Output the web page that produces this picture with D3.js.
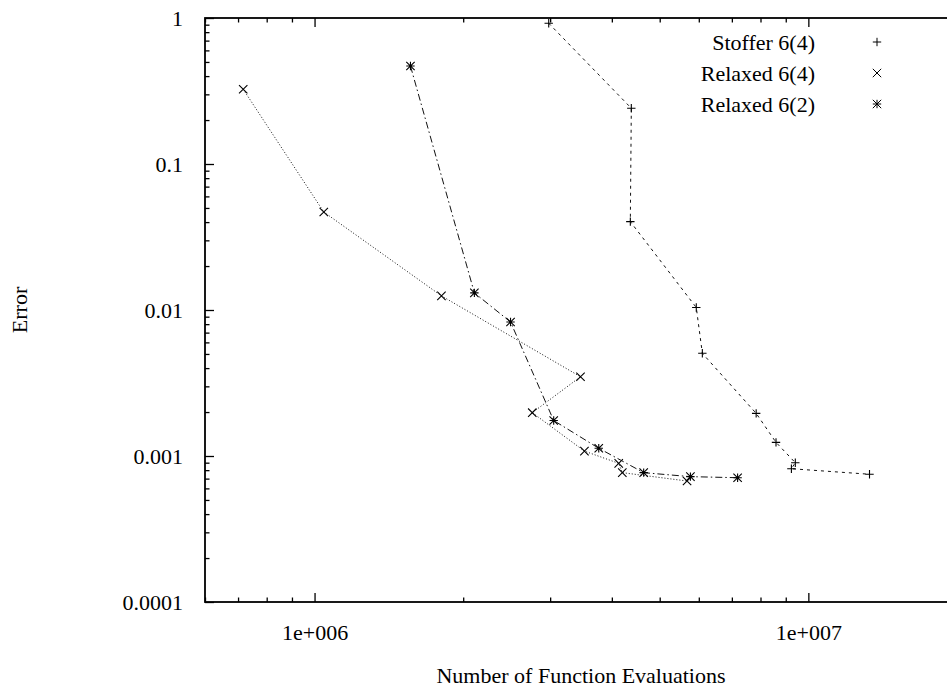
<!DOCTYPE html>
<html>
<head>
<meta charset="utf-8">
<script src="https://cdn.jsdelivr.net/npm/d3@7"></script>
<style>
    body { margin: 0; background: #fff; }
    svg text { font-family: "Liberation Serif", "DejaVu Serif", serif; fill: #000; }
</style>
</head>
<body>
<svg id="chart"></svg>
<script>
// series (x = function evaluations, y = error)
const stofferEvals = [2.98e6, 4.38e6, 4.36e6, 5.93e6, 6.10e6, 7.84e6, 8.60e6, 9.41e6, 9.24e6, 1.33e7];
const stofferError = [0.92, 0.241, 0.0403, 0.0104, 0.00505, 0.00196, 0.00124, 0.00090, 0.000818, 0.00075];

const relaxed64Evals = [7.17e5, 1.044e6, 1.807e6, 3.456e6, 2.76e6, 3.52e6, 4.13e6, 4.20e6, 5.68e6];
const relaxed64Error = [0.325, 0.0469, 0.0125, 0.00349, 0.00198, 0.00108, 0.000891, 0.000769, 0.000674];

const relaxed62Evals = [1.564e6, 2.107e6, 2.494e6, 3.05e6, 3.763e6, 4.64e6, 5.77e6, 7.19e6];
const relaxed62Error = [0.469, 0.0131, 0.00828, 0.00175, 0.00113, 0.000769, 0.000722, 0.00071];

const seriesNames = ["Stoffer 6(4)", "Relaxed 6(4)", "Relaxed 6(2)"];

const xMajorTicks = [1e6, 1e7];
const xMajorLabels = ["1e+006", "1e+007"];
const yMajorTicks = [1e-4, 1e-3, 1e-2, 1e-1, 1];
const yMajorLabels = ["0.0001", "0.001", "0.01", "0.1", "1"];

class ErrorPlot {
    constructor(_config) {
        this.config = {
            parentElement: _config.parentElement,
            width: 947,
            height: 688,
            plot: {left: 205, top: 18, right: 957, bottom: 602},
            fontSize: 22
        };
        this.initVis();
    }

    initVis() {
        let vis = this;
        const p = vis.config.plot;

        vis.svg = d3.select(vis.config.parentElement)
            .attr('width', vis.config.width)
            .attr('height', vis.config.height);

        vis.xScale = d3.scaleLog().domain([6e5, 2e7]).range([p.left, p.right]);
        vis.yScale = d3.scaleLog().domain([1e-4, 1]).range([p.bottom, p.top]);

        vis.series = [
            {name: seriesNames[0], x: stofferEvals, y: stofferError, marker: 'plus', dash: '3,4'},
            {name: seriesNames[1], x: relaxed64Evals, y: relaxed64Error, marker: 'cross', dash: '1,2'},
            {name: seriesNames[2], x: relaxed62Evals, y: relaxed62Error, marker: 'star', dash: '7,3,1.5,3'}
        ];

        vis.renderVis();
    }

    markerPath(type) {
        const r = 4.2;
        const plus = `M${-r},0H${r}M0,${-r}V${r}`;
        const cross = `M${-r},${-r}L${r},${r}M${-r},${r}L${r},${-r}`;
        if (type === 'plus') return plus;
        if (type === 'cross') return cross;
        return plus + cross;
    }

    renderVis() {
        let vis = this;
        const p = vis.config.plot;
        const fs = vis.config.fontSize;
        const font = '"Liberation Serif", "DejaVu Serif", serif';

        const xMinor = vis.xScale.ticks().filter(d => !xMajorTicks.some(m => Math.abs(m - d) / m < 1e-9));
        const yMinor = vis.yScale.ticks().filter(d => !yMajorTicks.some(m => Math.abs(m - d) / m < 1e-9));

        const styleAxis = g => {
            g.attr('font-family', null);
            g.select('.domain').remove();
            g.selectAll('line').attr('stroke', '#000').attr('stroke-width', 1.3);
            g.selectAll('text').style('font-size', fs + 'px').style('font-family', font);
        };

        // bottom axis (ticks pointing inward)
        vis.svg.append('g').attr('transform', `translate(0,${p.bottom})`)
            .call(d3.axisBottom(vis.xScale).tickValues(xMinor).tickSize(-4.5).tickSizeOuter(0).tickFormat(''))
            .call(styleAxis);
        vis.svg.append('g').attr('transform', `translate(0,${p.bottom})`)
            .call(d3.axisBottom(vis.xScale).tickValues(xMajorTicks).tickSize(-9).tickSizeOuter(0)
                .tickPadding(22).tickFormat((d, i) => xMajorLabels[i]))
            .call(styleAxis);

        // top mirror ticks
        vis.svg.append('g').attr('transform', `translate(0,${p.top})`)
            .call(d3.axisTop(vis.xScale).tickValues(xMinor).tickSize(-4.5).tickSizeOuter(0).tickFormat(''))
            .call(styleAxis);
        vis.svg.append('g').attr('transform', `translate(0,${p.top})`)
            .call(d3.axisTop(vis.xScale).tickValues(xMajorTicks).tickSize(-9).tickSizeOuter(0).tickFormat(''))
            .call(styleAxis);

        // left axis
        vis.svg.append('g').attr('transform', `translate(${p.left},0)`)
            .call(d3.axisLeft(vis.yScale).tickValues(yMinor).tickSize(-4.5).tickSizeOuter(0).tickFormat(''))
            .call(styleAxis);
        vis.svg.append('g').attr('transform', `translate(${p.left},0)`)
            .call(d3.axisLeft(vis.yScale).tickValues(yMajorTicks).tickSize(-9).tickSizeOuter(0)
                .tickPadding(22).tickFormat((d, i) => yMajorLabels[i]))
            .call(styleAxis);

        // border
        vis.svg.append('rect')
            .attr('x', p.left).attr('y', p.top)
            .attr('width', p.right - p.left).attr('height', p.bottom - p.top)
            .attr('fill', 'none').attr('stroke', '#000').attr('stroke-width', 1.8);

        // axis titles
        vis.svg.append('text')
            .attr('x', (p.left + p.right) / 2).attr('y', 675)
            .attr('text-anchor', 'middle').attr('dy', '0.35em')
            .style('font-size', fs + 'px').style('font-family', font)
            .text('Number of Function Evaluations');

        vis.svg.append('text')
            .attr('transform', `translate(19,${(p.top + p.bottom) / 2}) rotate(-90)`)
            .attr('text-anchor', 'middle').attr('dy', '0.35em')
            .style('font-size', fs + 'px').style('font-family', font)
            .text('Error');

        // lines + markers
        const line = d3.line()
            .x(d => vis.xScale(d[0]))
            .y(d => vis.yScale(d[1]));

        vis.series.forEach(s => {
            const pts = s.x.map((v, i) => [v, s.y[i]]);
            vis.svg.append('path')
                .datum(pts)
                .attr('d', line)
                .attr('fill', 'none')
                .attr('stroke', '#111')
                .attr('stroke-width', 1)
                .attr('stroke-dasharray', s.dash);

            vis.svg.selectAll(null)
                .data(pts)
                .join('path')
                .attr('transform', d => `translate(${vis.xScale(d[0])},${vis.yScale(d[1])})`)
                .attr('d', vis.markerPath(s.marker))
                .attr('fill', 'none')
                .attr('stroke', '#000')
                .attr('stroke-width', 1.1);
        });

        // legend (markers only, like the original)
        const legend = vis.svg.append('g');
        vis.series.forEach((s, i) => {
            const ly = 42 + i * 31;
            legend.append('text')
                .attr('x', 815).attr('y', ly)
                .attr('text-anchor', 'end').attr('dy', '0.35em')
                .style('font-size', fs + 'px').style('font-family', font)
                .text(s.name);
            legend.append('path')
                .attr('transform', `translate(877,${ly})`)
                .attr('d', vis.markerPath(s.marker))
                .attr('fill', 'none')
                .attr('stroke', '#000')
                .attr('stroke-width', 1);
        });
    }
}

new ErrorPlot({parentElement: '#chart'});
</script>
</body>
</html>
